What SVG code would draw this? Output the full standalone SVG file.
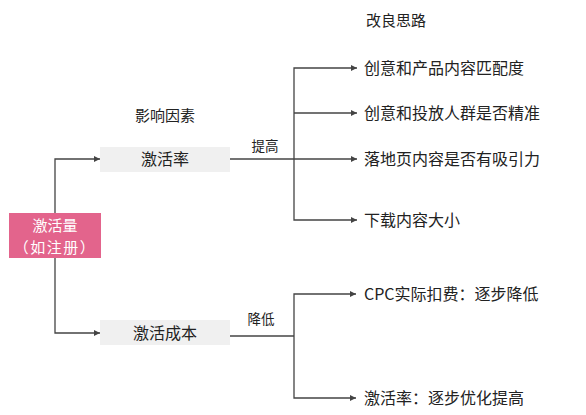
<svg xmlns="http://www.w3.org/2000/svg" width="586" height="415" viewBox="0 0 586 415">
<style>
text{font-family:"Noto Sans CJK SC","Noto Sans",sans-serif;fill:#222}
.lbl{font-size:13.5px}
.item{font-size:16px}
.head{font-size:15px}
.box{fill:#f0f0f0}
.line{fill:none;stroke:#444;stroke-width:1.3}
</style>
<defs>
<marker id="ah" viewBox="0 0 10 10" refX="10" refY="5" markerWidth="6" markerHeight="6" markerUnits="userSpaceOnUse" orient="auto">
<path d="M0,0 L10,5 L0,10 z" fill="#444"/>
</marker>
</defs>
<rect width="586" height="415" fill="#fff"/>
<g id="connectors">
<path class="line" d="M55,213 V159 H100" marker-end="url(#ah)"/>
<path class="line" d="M55,258 V333 H100" marker-end="url(#ah)"/>
<path class="line" d="M230,159 H294"/>
<path class="line" d="M294,159 V68 H357" marker-end="url(#ah)"/>
<path class="line" d="M294,113 H357" marker-end="url(#ah)"/>
<path class="line" d="M294,159 H357" marker-end="url(#ah)"/>
<path class="line" d="M294,159 V220 H357" marker-end="url(#ah)"/>
<path class="line" d="M229,336 H294"/>
<path class="line" d="M294,336 V294 H356" marker-end="url(#ah)"/>
<path class="line" d="M294,336 V398 H356" marker-end="url(#ah)"/>
<text class="lbl" x="265" y="151" text-anchor="middle">提高</text>
<text class="lbl" x="261" y="324" text-anchor="middle">降低</text>
</g>
<g id="header-factors"><text class="head" x="165" y="121" text-anchor="middle">影响因素</text></g>
<g id="header-ideas"><text class="head" x="396" y="26" text-anchor="middle">改良思路</text></g>
<g id="root">
<rect x="9" y="213" width="92" height="45" fill="#e3648c"/>
<text x="55" y="231" text-anchor="middle" font-size="15" style="fill:#fff">激活量</text>
<text x="55" y="253" text-anchor="middle" font-size="15" letter-spacing="1.5" style="fill:#fff">（如注册）</text>
</g>
<g id="rate">
<rect class="box" x="100" y="147" width="130" height="25"/>
<text class="item" x="165" y="165" text-anchor="middle">激活率</text>
</g>
<g id="cost">
<rect class="box" x="100" y="320" width="130" height="25"/>
<text class="item" x="165" y="338.5" text-anchor="middle">激活成本</text>
</g>
<g id="i1"><text class="item" x="364" y="74">创意和产品内容匹配度</text></g>
<g id="i2"><text class="item" x="364" y="119">创意和投放人群是否精准</text></g>
<g id="i3"><text class="item" x="364" y="165">落地页内容是否有吸引力</text></g>
<g id="i4"><text class="item" x="364" y="226">下载内容大小</text></g>
<g id="i5"><text class="item" x="364" y="300">CPC实际扣费：逐步降低</text></g>
<g id="i6"><text class="item" x="364" y="404">激活率：逐步优化提高</text></g>
</svg>
